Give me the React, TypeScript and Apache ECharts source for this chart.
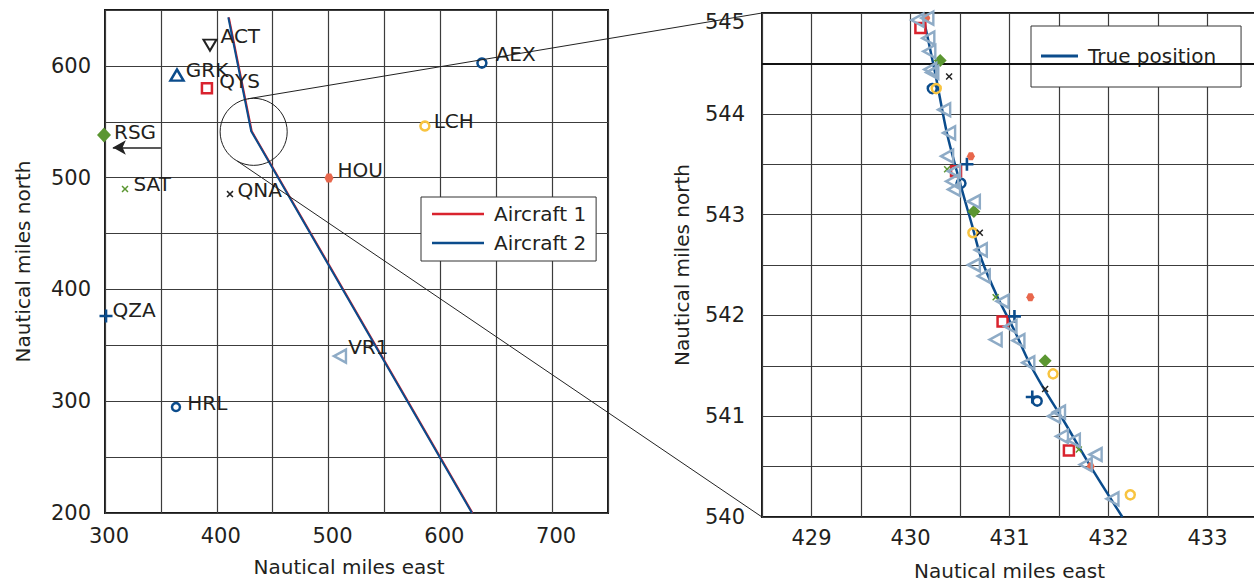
import React, { useEffect, useRef } from "react";
import * as echarts from "echarts";

// ---------------- data ----------------
const stationNames = ["ACT", "GRK", "QYS", "RSG", "SAT", "QNA", "HOU", "LCH", "AEX", "QZA", "HRL", "VR1"];
const stationEast = [393.9, 364.4, 391.2, 299.1, 317.9, 411.8, 500.4, 586.2, 637.2, 300.9, 363.5, 510.2];
const stationNorth = [618.6, 591.8, 580.1, 538.1, 489.8, 485.3, 499.6, 546.2, 602.5, 376.2, 294.8, 340.4];

const aircraft1East = [410.8, 431.3, 628.8];
const aircraft1North = [643.4, 541.5, 200];
const aircraft2East = [410.3, 430.8, 628.3];
const aircraft2North = [643.4, 541.5, 200];

const trueEast = [430.12, 430.25, 430.37, 430.51, 430.62, 430.72, 430.88, 431.05, 431.19, 431.33, 431.55, 431.82, 432.14];
const trueNorth = [545.0, 544.4, 543.8, 543.28, 542.9, 542.55, 542.18, 541.85, 541.55, 541.3, 540.95, 540.5, 540.0];

const fixesQYS = [[430.10, 544.85], [430.46, 543.43], [430.93, 541.94], [431.60, 540.66]];
const fixesQZA = [[430.57, 543.50], [431.05, 541.99], [431.23, 541.19]];
const fixesHRL = [[430.22, 544.25], [430.51, 543.31], [431.28, 541.15]];
const fixesLCH = [[430.26, 544.25], [430.63, 542.82], [431.44, 541.42], [432.22, 540.22]];
const fixesRSG = [[430.30, 544.53], [430.64, 543.03], [431.36, 541.55]];
const fixesQNA = [[430.39, 544.37], [430.70, 542.82], [431.36, 541.27]];
const fixesSAT = [[430.37, 543.45], [430.86, 542.18], [431.70, 540.67]];
const fixesHOU = [[430.16, 544.95], [430.61, 543.58], [431.21, 542.18], [431.82, 540.50]];
const fixesVR1 = [
  [430.07, 544.93], [430.17, 544.95], [430.18, 544.75], [430.19, 544.62], [430.20, 544.44],
  [430.22, 544.41], [430.34, 544.04], [430.39, 543.81], [430.37, 543.58], [430.44, 543.43],
  [430.42, 543.33], [430.44, 543.25], [430.64, 543.13], [430.71, 542.65], [430.64, 542.50],
  [430.74, 542.39], [430.93, 542.14], [431.01, 541.89], [430.86, 541.76], [431.09, 541.75],
  [431.19, 541.53], [431.45, 541.00], [431.50, 541.04], [431.53, 540.80], [431.65, 540.76],
  [431.87, 540.62], [431.77, 540.52], [432.04, 540.18],
];

const eastTicks = [300, 400, 500, 600, 700];
const northTicks = [200, 300, 400, 500, 600];
const zoomEastTicks = [429, 430, 431, 432, 433];
const zoomNorthTicks = [540, 541, 542, 543, 544, 545];

const zoomCircleCenter = [433, 541];
const zoomCircleRadius = 30;
const rsgArrowEast = [350, 307];
const rsgArrowNorth = 527;
const highlightNorth = 544.5;

// ---------------- styles ----------------
const FONT = "DejaVu Sans";
const TEXT = "#231f20";
const RED = "#d9232e";
const BLUE = "#0b4c8c";
const GREEN = "#5b9631";
const ORANGE = "#e8674c";
const YELLOW = "#f8c440";
const STEEL = "#8eabc6";
const BLACK = "#222222";
const GRIDC = "#3c3c3c";
const HOLLOW = "rgba(255,255,255,0)";

const PLUS = "path://M4,0L6,0L6,4L10,4L10,6L6,6L6,10L4,10L4,6L0,6L0,4L4,4Z";
const CROSS = "path://M1.5,0L5,3.5L8.5,0L10,1.5L6.5,5L10,8.5L8.5,10L5,6.5L1.5,10L0,8.5L3.5,5L0,1.5Z";
const HEX = "path://M2.5,0L7.5,0L10,4.33L7.5,8.66L2.5,8.66L0,4.33Z";

type St = { symbol: string; size: any; rotate?: number; fill: string; stroke?: string; bw?: number; label: number[] };
const stationStyle: Record<string, St> = {
  ACT: { symbol: "triangle", size: [13, 11], rotate: 180, fill: HOLLOW, stroke: BLACK, bw: 2, label: [3, -9] },
  GRK: { symbol: "triangle", size: [13, 11], fill: HOLLOW, stroke: BLUE, bw: 2.5, label: [1, -5] },
  QYS: { symbol: "rect", size: 10, fill: HOLLOW, stroke: RED, bw: 2.5, label: [6, -7] },
  RSG: { symbol: "diamond", size: [14, 15], fill: GREEN, label: [3, -3] },
  SAT: { symbol: CROSS, size: 7, fill: GREEN, label: [5, -5] },
  QNA: { symbol: CROSS, size: 7, fill: BLACK, label: [4, -4] },
  HOU: { symbol: HEX, size: 9, fill: ORANGE, label: [4, -8] },
  LCH: { symbol: "circle", size: 9, fill: HOLLOW, stroke: YELLOW, bw: 2.5, label: [3, -5] },
  AEX: { symbol: "circle", size: 9, fill: HOLLOW, stroke: BLUE, bw: 2.5, label: [8, -9] },
  QZA: { symbol: PLUS, size: 13, fill: BLUE, label: [0, -6] },
  HRL: { symbol: "circle", size: 8, fill: HOLLOW, stroke: BLUE, bw: 2.5, label: [6, -4] },
  VR1: { symbol: "triangle", size: [13, 12], rotate: 90, fill: HOLLOW, stroke: STEEL, bw: 2.5, label: [1, -9] },
};

const zip = (a: number[], b: number[]) => a.map((v, i) => [v, b[i]]);
const hasTick = (ticks: number[], v: number) => ticks.some((t) => Math.abs(t - v) < 1e-6);

function scatter(name: string, data: number[][], st: St, idx: number, withLabel: boolean, sizeOverride?: any) {
  return {
    type: "scatter",
    name,
    xAxisIndex: idx,
    yAxisIndex: idx,
    data,
    clip: false,
    silent: true,
    z: 5,
    symbol: st.symbol,
    symbolSize: sizeOverride ?? st.size,
    symbolRotate: st.rotate || 0,
    itemStyle: { color: st.fill, borderColor: st.stroke || st.fill, borderWidth: st.bw || 0, opacity: 1 },
    label: withLabel
      ? {
          show: true,
          position: "right",
          distance: st.label[0],
          offset: [0, st.label[1]],
          formatter: name,
          fontFamily: FONT,
          fontSize: 20,
          color: TEXT,
        }
      : { show: false },
  };
}

const tickFont = { fontFamily: FONT, fontSize: 21, color: TEXT };
const nameFont = { fontFamily: FONT, fontSize: 20, color: TEXT };
const split = { show: true, lineStyle: { color: GRIDC, width: 1.2 } };

function buildOption() {
  const leftStations = stationNames.map((n, i) => {
    const s: any = scatter(n, [[stationEast[i], stationNorth[i]]], stationStyle[n], 0, true);
    if (n === "RSG") {
      s.markLine = {
        silent: true,
        symbol: ["none", "arrow"],
        symbolSize: [11, 13],
        lineStyle: { color: BLACK, width: 1.5, type: "solid" },
        label: { show: false },
        data: [[{ coord: [rsgArrowEast[0], rsgArrowNorth] }, { coord: [rsgArrowEast[1], rsgArrowNorth] }]],
      };
    }
    return s;
  });

  const fixes: [string, number[][], any?][] = [
    ["QYS", fixesQYS],
    ["QZA", fixesQZA],
    ["HRL", fixesHRL, 9],
    ["LCH", fixesLCH, 9],
    ["RSG", fixesRSG, [13, 13]],
    ["QNA", fixesQNA],
    ["SAT", fixesSAT],
    ["HOU", fixesHOU, 8],
    ["VR1", fixesVR1, [13, 12]],
  ];
  const rightFixes = fixes.map(([n, d, sz]) => scatter(n + " fix", d, stationStyle[n], 1, false, sz));

  return {
    animation: false,
    textStyle: { fontFamily: FONT },
    grid: [
      {
        left: 105, top: 10, width: 503, height: 503, show: true, borderColor: "#1a1a1a", borderWidth: 2,
        backgroundColor: "transparent", outerBoundsMode: "none", containLabel: false,
      },
      {
        left: 762, top: 13, width: 495, height: 504, show: true, borderColor: "#1a1a1a", borderWidth: 2,
        backgroundColor: "transparent", outerBoundsMode: "none", containLabel: false,
      },
    ],
    xAxis: [
      {
        type: "value", gridIndex: 0, min: 300, max: 750, interval: 50,
        name: "Nautical miles east", nameLocation: "middle", nameGap: 44,
        nameTextStyle: { ...nameFont, padding: [0, 15, 0, 0] },
        axisLine: { show: false }, axisTick: { show: false }, splitLine: split,
        axisLabel: { ...tickFont, margin: 12, padding: [0, 0, 0, 8], formatter: (v: number) => (hasTick(eastTicks, v) ? String(v) : "") },
      },
      {
        type: "value", gridIndex: 1, min: 428.5, max: 433.5, interval: 0.5,
        name: "Nautical miles east", nameLocation: "middle", nameGap: 44, nameTextStyle: nameFont,
        axisLine: { show: false }, axisTick: { show: false }, splitLine: split,
        axisLabel: { ...tickFont, margin: 10, formatter: (v: number) => (hasTick(zoomEastTicks, v) ? String(Math.round(v)) : "") },
      },
    ],
    yAxis: [
      {
        type: "value", gridIndex: 0, min: 200, max: 650, interval: 50,
        name: "Nautical miles north", nameLocation: "middle", nameGap: 72, nameTextStyle: nameFont,
        axisLine: { show: false }, axisTick: { show: false }, splitLine: split,
        axisLabel: { ...tickFont, margin: 14, formatter: (v: number) => (hasTick(northTicks, v) ? String(v) : "") },
      },
      {
        type: "value", gridIndex: 1, min: 540, max: 545, interval: 0.5,
        name: "Nautical miles north", nameLocation: "middle", nameGap: 70, nameTextStyle: nameFont,
        axisLine: { show: false }, axisTick: { show: false }, splitLine: split,
        axisLabel: {
          ...tickFont, margin: 17,
          formatter: (v: number) => {
            if (!hasTick(zoomNorthTicks, v)) return "";
            const s = String(Math.round(v));
            return Math.abs(v - 545) < 1e-6 ? "{top|" + s + "}" : s;
          },
          rich: { top: { ...tickFont, padding: [18, 0, 0, 0] } },
        },
      },
    ],
    legend: [
      {
        data: ["Aircraft 1", "Aircraft 2"],
        orient: "vertical", left: 421, top: 197,
        icon: "rect",
        padding: [5, 10, 6, 11], itemGap: 5, itemWidth: 52, itemHeight: 2.5,
        backgroundColor: "#ffffff", borderColor: "#333", borderWidth: 1,
        textStyle: { ...nameFont, lineHeight: 24, padding: [0, 0, 0, 5] },
        selectedMode: false,
      },
      {
        data: ["True position"],
        orient: "vertical", left: 1031, top: 26,
        icon: "rect",
        padding: [18, 25, 19, 10], itemWidth: 37, itemHeight: 3,
        backgroundColor: "#ffffff", borderColor: "#333", borderWidth: 1,
        textStyle: { ...nameFont, lineHeight: 24, padding: [0, 0, 0, 5] },
        selectedMode: false,
      },
    ],
    series: [
      {
        type: "line", name: "Aircraft 1", xAxisIndex: 0, yAxisIndex: 0, data: zip(aircraft1East, aircraft1North),
        symbol: "none", lineStyle: { color: RED, width: 2 }, itemStyle: { color: RED }, z: 2, silent: true,
      },
      {
        type: "line", name: "Aircraft 2", xAxisIndex: 0, yAxisIndex: 0, data: zip(aircraft2East, aircraft2North),
        symbol: "none", lineStyle: { color: BLUE, width: 2 }, itemStyle: { color: BLUE }, z: 3, silent: true,
      },
      ...leftStations,
      {
        type: "line", name: "True position", xAxisIndex: 1, yAxisIndex: 1, data: zip(trueEast, trueNorth),
        symbol: "none", smooth: 0.3, lineStyle: { color: BLUE, width: 2.5 }, itemStyle: { color: BLUE }, z: 3, silent: true,
        markLine: {
          silent: true, symbol: ["none", "none"], label: { show: false },
          lineStyle: { color: "#111", width: 2, type: "solid" },
          data: [{ yAxis: highlightNorth }],
        },
      },
      ...rightFixes,
    ],
  };
}

function buildGraphic(chart: any) {
  const L = { xAxisIndex: 0, yAxisIndex: 0 };
  const R = { xAxisIndex: 1, yAxisIndex: 1 };
  const c = chart.convertToPixel(L, zoomCircleCenter);
  const e = chart.convertToPixel(L, [zoomCircleCenter[0] + zoomCircleRadius, zoomCircleCenter[1]]);
  const r = e[0] - c[0];
  const tl = chart.convertToPixel(R, [428.5, 545]);
  const bl = chart.convertToPixel(R, [428.5, 540]);
  const a1 = (100 * Math.PI) / 180;
  const a2 = (241 * Math.PI) / 180;
  const st = { stroke: BLACK, lineWidth: 1, fill: "none" };
  return [
    { type: "circle", silent: true, z: 100, shape: { cx: c[0], cy: c[1], r }, style: st },
    { type: "line", silent: true, z: 100, shape: { x1: c[0] + r * Math.cos(a1), y1: c[1] - r * Math.sin(a1), x2: tl[0], y2: tl[1] }, style: st },
    { type: "line", silent: true, z: 100, shape: { x1: c[0] + r * Math.cos(a2), y1: c[1] - r * Math.sin(a2), x2: bl[0], y2: bl[1] }, style: st },
  ];
}

export default function App() {
  const ref = useRef<HTMLDivElement>(null);
  useEffect(() => {
    const chart = echarts.init(ref.current as HTMLDivElement, null, { renderer: "svg" });
    chart.setOption(buildOption() as any);
    chart.setOption({ graphic: buildGraphic(chart) } as any);
    return () => chart.dispose();
  }, []);
  return <div ref={ref} style={{ position: "absolute", left: 0, top: 0, width: 1254, height: 584 }} />;
}
